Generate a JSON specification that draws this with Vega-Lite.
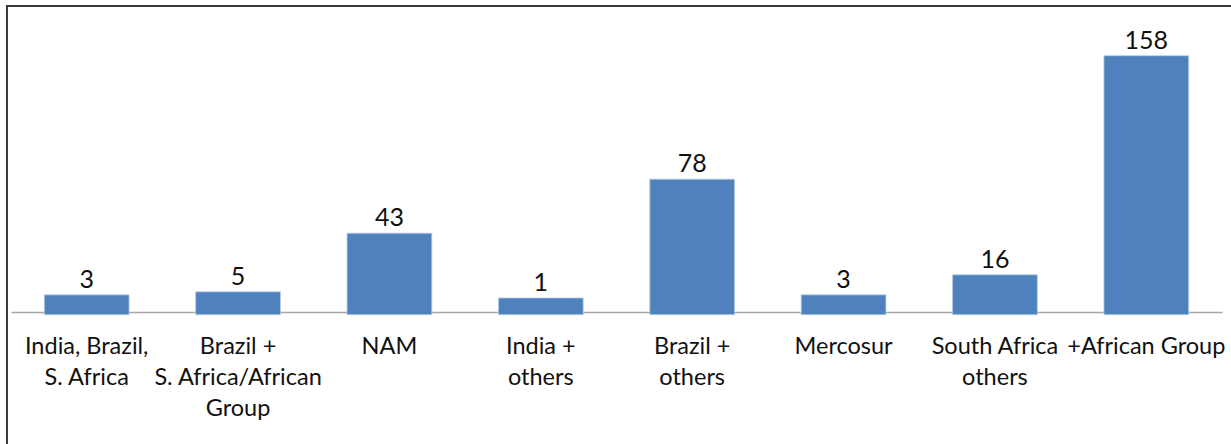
{
  "$schema": "https://vega.github.io/schema/vega-lite/v6.json",
  "autosize": "none",
  "padding": {"left": 7, "top": 6, "right": 0, "bottom": 0},
  "width": 1240,
  "height": 450,
  "background": "white",
  "config": {"view": {"stroke": "#3a3a3a", "strokeWidth": 2}},
  "data": {"values": [
    {"group": "India, Brazil,|S.  Africa", "value": 3},
    {"group": "Brazil +|S. Africa/African|Group", "value": 5},
    {"group": "NAM", "value": 43},
    {"group": "India +|others", "value": 1},
    {"group": "Brazil +|others", "value": 78},
    {"group": "Mercosur", "value": 3},
    {"group": "South Africa|others", "value": 16},
    {"group": "+African Group", "value": 158}
  ]},
  "encoding": {
    "x": {
      "field": "group", "type": "nominal", "sort": null,
      "scale": {"range": [4, 1215], "paddingInner": 0.44, "paddingOuter": 0.22},
      "axis": {
        "title": null, "ticks": false, "offset": -144,
        "domainColor": "#a6a6a6", "domainWidth": 1.5,
        "labelExpr": "split(datum.label, '|')",
        "labelAngle": 0, "labelOverlap": false, "labelFlush": false, "labelLimit": 300,
        "labelFont": "Lato", "labelFontSize": 23.5, "labelColor": "#111111",
        "labelLineHeight": 31, "labelBaseline": "top", "labelPadding": 22
      }
    },
    "y": {
      "field": "value", "type": "quantitative",
      "scale": {"domain": [-9.85, 190.2], "range": [308.7, 0], "zero": false, "nice": false},
      "axis": null
    }
  },
  "layer": [
    {"mark": {"type": "bar", "color": "#4f81bd", "stroke": "#b9cde5", "strokeWidth": 0.8},
     "encoding": {"y2": {"datum": -9.85}}},
    {"mark": {"type": "text", "baseline": "alphabetic", "dy": -7, "font": "Lato", "fontSize": 25, "color": "#111111"},
     "encoding": {"text": {"field": "value", "type": "quantitative"}}}
  ]
}
